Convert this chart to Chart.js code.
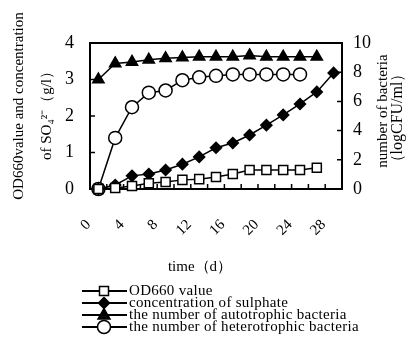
<!DOCTYPE html>
<html>
<head>
<meta charset="utf-8">
<script src="https://cdn.jsdelivr.net/npm/chart.js@4.4.1/dist/chart.umd.min.js"></script>
<style>
  html, body { margin: 0; padding: 0; background: #fff; }
</style>
</head>
<body>
<canvas id="chart" width="408" height="342"></canvas>
<script>
// data (x: day of culture)
const days = ['0', '2', '4', '6', '8', '10', '12', '14', '16', '18', '20', '22', '24', '26', '28'];
const od660 = [0, 0.03, 0.08, 0.16, 0.19, 0.25, 0.27, 0.33, 0.41, 0.52, 0.52, 0.52, 0.52, 0.58];
const sulphate = [0, 0.11, 0.36, 0.41, 0.52, 0.68, 0.88, 1.13, 1.26, 1.48, 1.75, 2.03, 2.33, 2.66, 3.18];
const autotrophic = [7.5, 8.6, 8.7, 8.85, 8.95, 9.0, 9.05, 9.05, 9.05, 9.15, 9.05, 9.05, 9.05, 9.05];
const heterotrophic = [0, 3.5, 5.6, 6.6, 6.75, 7.45, 7.65, 7.75, 7.85, 7.85, 7.85, 7.85, 7.85];

const legendNames = ['OD660 value', 'concentration of sulphate',
  'the number of autotrophic bacteria', 'the number of heterotrophic bacteria'];
const leftTitle = ['OD660value and concentration', 'of SO\u2084\u00B2\u207B\uFF08g/l\uFF09'];
const rightTitle = ['number of bacteria', '\uFF08logCFU/ml\uFF09'];
const xTitle = 'time\uFF08d\uFF09';

const FONT = '"Liberation Serif", "Times New Roman", serif';

function ds(label, data, style, fill, radius, axis) {
  return {
    label: label,
    data: data,
    yAxisID: axis,
    borderColor: '#000',
    borderWidth: 1.5,
    pointStyle: style,
    pointRadius: radius,
    pointHoverRadius: radius,
    pointBackgroundColor: fill,
    pointBorderColor: '#000',
    pointBorderWidth: 1.5,
    tension: 0,
    clip: false
  };
}

// draw a marker by hand for the legend
function marker(ctx, style, x, y) {
  ctx.beginPath();
  if (style === 'rect') {
    ctx.rect(x - 4.5, y - 4.5, 9, 9);
    ctx.fillStyle = '#fff';
  } else if (style === 'rectRot') {
    ctx.moveTo(x, y - 5.5); ctx.lineTo(x + 5.5, y); ctx.lineTo(x, y + 5.5); ctx.lineTo(x - 5.5, y);
    ctx.closePath();
    ctx.fillStyle = '#000';
  } else if (style === 'triangle') {
    ctx.moveTo(x, y - 6.5); ctx.lineTo(x + 6, y + 4); ctx.lineTo(x - 6, y + 4);
    ctx.closePath();
    ctx.fillStyle = '#000';
  } else {
    ctx.arc(x, y, 6.5, 0, Math.PI * 2);
    ctx.fillStyle = '#fff';
  }
  ctx.fill();
  ctx.stroke();
}

const framePlugin = {
  id: 'frame',
  beforeDatasetsDraw(chart) {
    const ctx = chart.ctx;
    const a = chart.chartArea;
    const x = chart.scales.x, y = chart.scales.y, y1 = chart.scales.y1;
    ctx.save();
    ctx.strokeStyle = '#000';
    ctx.lineWidth = 2;
    ctx.strokeRect(a.left, a.top, a.right - a.left, a.bottom - a.top);
    ctx.lineWidth = 1.5;
    ctx.beginPath();
    // inward tick marks between categories
    for (let i = 1; i < days.length; i++) {
      const px = (x.getPixelForValue(i - 1) + x.getPixelForValue(i)) / 2;
      ctx.moveTo(px, a.bottom);
      ctx.lineTo(px, a.bottom - 5);
    }
    y.ticks.forEach(t => {
      const py = y.getPixelForValue(t.value);
      ctx.moveTo(a.left, py); ctx.lineTo(a.left + 5, py);
    });
    y1.ticks.forEach(t => {
      const py = y1.getPixelForValue(t.value);
      ctx.moveTo(a.right, py); ctx.lineTo(a.right - 5, py);
    });
    ctx.stroke();
    ctx.restore();
  },
  afterDraw(chart) {
    const ctx = chart.ctx;
    ctx.save();
    ctx.fillStyle = '#000';
    ctx.textAlign = 'center';
    ctx.textBaseline = 'middle';

    // axis titles, both read bottom to top
    ctx.font = '15px ' + FONT;
    [[19, 106, leftTitle[0]], [47, 112, leftTitle[1]]].forEach(t => {
      ctx.save(); ctx.translate(t[0], t[1]); ctx.rotate(-Math.PI / 2);
      ctx.fillText(t[2], 0, 0); ctx.restore();
    });
    [[383, 111, rightTitle[0]], [398, 118, rightTitle[1]]].forEach(t => {
      ctx.save(); ctx.translate(t[0], t[1]); ctx.rotate(-Math.PI / 2);
      ctx.font = (t[2] === rightTitle[1] ? '16px ' : '15px ') + FONT;
      ctx.fillText(t[2], 0, 0); ctx.restore();
    });

    ctx.font = '15px ' + FONT;
    ctx.fillText(xTitle, 200, 267);

    // legend
    const styles = chart.data.datasets.map(d => d.pointStyle);
    const rows = [291, 303, 315, 327];
    ctx.font = '15px ' + FONT;
    ctx.letterSpacing = '0.3px';
    ctx.textAlign = 'left';
    ctx.strokeStyle = '#000';
    rows.forEach((ry, i) => {
      ctx.lineWidth = 2;
      ctx.beginPath(); ctx.moveTo(82, ry); ctx.lineTo(127, ry); ctx.stroke();
      ctx.lineWidth = 1.5;
      marker(ctx, styles[i], 104, ry);
      ctx.fillStyle = '#000';
      ctx.fillText(legendNames[i], 129, ry);
    });
    ctx.restore();
  }
};

new Chart(document.getElementById('chart'), {
  type: 'line',
  data: {
    labels: days,
    datasets: [
      ds(legendNames[0], od660, 'rect', '#fff', 6.4, 'y'),
      ds(legendNames[1], sulphate, 'rectRot', '#000', 5.5, 'y'),
      ds(legendNames[2], autotrophic, 'triangle', '#000', 6.5, 'y1'),
      ds(legendNames[3], heterotrophic, 'circle', '#fff', 6.5, 'y1')
    ]
  },
  options: {
    responsive: false,
    animation: false,
    layout: { padding: { top: 43, left: 0, right: 0, bottom: 0 } },
    plugins: { legend: { display: false }, tooltip: { enabled: false } },
    scales: {
      x: {
        offset: true,
        grid: { display: false, drawTicks: false },
        border: { display: false },
        afterFit(s) { s.height = 153; },
        ticks: {
          autoSkip: false,
          minRotation: 45,
          maxRotation: 45,
          padding: 27,
          labelOffset: -10,
          color: '#000',
          font: { family: FONT, size: 15 },
          callback: (v, i) => (i % 2 === 0 ? days[i] : '')
        }
      },
      y: {
        position: 'left',
        min: 0, max: 4,
        grid: { display: false, drawTicks: false },
        border: { display: false },
        afterFit(s) { s.width = 90; },
        ticks: { stepSize: 1, padding: 16, color: '#000', font: { family: FONT, size: 18 } }
      },
      y1: {
        position: 'right',
        min: 0, max: 10,
        grid: { display: false, drawTicks: false },
        border: { display: false },
        afterFit(s) { s.width = 66; },
        ticks: { stepSize: 2, padding: 11, color: '#000', font: { family: FONT, size: 18 } }
      }
    }
  },
  plugins: [framePlugin]
});
</script>
</body>
</html>
